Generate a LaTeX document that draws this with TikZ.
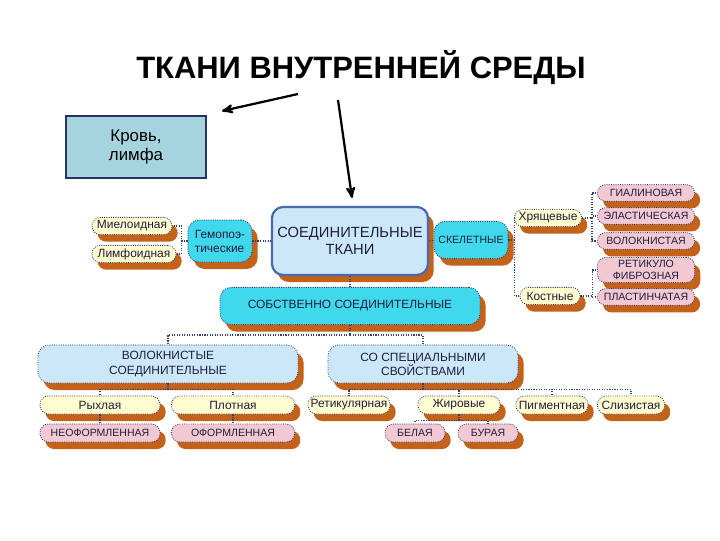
\documentclass[tikz,border=0pt]{standalone}
\usepackage{fontspec}
\setmainfont{Liberation Sans}
\usepackage{xcolor}
\usepackage{tikz}
\definecolor{ShadowOrange}{RGB}{196,98,26}
\definecolor{BoxBorder}{RGB}{40,50,100}
\definecolor{MainBorder}{RGB}{74,104,176}
\definecolor{PaleBlue}{RGB}{204,232,248}
\definecolor{CyanFill}{RGB}{64,216,236}
\definecolor{PaleYellow}{RGB}{255,252,208}
\definecolor{PalePink}{RGB}{242,200,210}
\definecolor{TextNavy}{RGB}{30,30,60}
\definecolor{LinkNavy}{RGB}{50,65,115}
\definecolor{BloodBlue}{RGB}{166,212,222}
\usetikzlibrary{arrows,shadows}

\tikzset{
  card/.style={draw=BoxBorder, densely dotted, line width=0.6pt, rounded corners=6pt, align=center,
    inner sep=1pt, text=TextNavy,
    drop shadow={shadow xshift=4pt, shadow yshift=-5pt, fill=ShadowOrange, opacity=1}},
  mainbox/.style={card, fill=PaleBlue, draw=MainBorder, solid, line width=1.6pt,
    rounded corners=8pt, font=\fontsize{10.5}{12.5}\selectfont},
  groupbox/.style={card, fill=PaleBlue, rounded corners=8pt, font=\fontsize{8.5}{10}\selectfont},
  cyanbox/.style={card, fill=CyanFill, rounded corners=8pt, font=\fontsize{8.5}{10}\selectfont},
  kindpill/.style={card, fill=PaleYellow, font=\fontsize{8.5}{9.5}\selectfont},
  subpill/.style={card, fill=PalePink, font=\fontsize{7.5}{8.5}\selectfont},
  link/.style={color=LinkNavy, densely dotted, line width=0.8pt},
  bigarrow/.style={->, line width=1.6pt},
}

\begin{document}
\begin{tikzpicture}[x=0.025cm, y=-0.025cm, >=stealth']
        \useasboundingbox[fill=white] (0,0) rectangle (720,540);

        % title and the blood box
        \node[font=\bfseries\fontsize{22}{26}\selectfont] (title) at (361,68) {ТКАНИ ВНУТРЕННЕЙ СРЕДЫ};
        \node[draw=BoxBorder, line width=0.8pt, fill=BloodBlue, minimum width=3.5cm, minimum height=1.55cm,
              align=center, font=\fontsize{12}{14}\selectfont] (krov) at (136,147) {Кровь,\\лимфа};

        % arrows from the title
        \coordinate (leftstart) at (298,94);
        \coordinate (krovtip) at (222,111);
        \coordinate (rightstart) at (338,100);
        \coordinate (soedtip) at (352,198);
        \draw[bigarrow] (leftstart) -- (krovtip);
        \draw[bigarrow] (rightstart) -- (soedtip);

        % upper row
        \node[mainbox, minimum width=3.9cm, minimum height=1.7cm] (soed) at (350,241) {СОЕДИНИТЕЛЬНЫЕ\\ТКАНИ};
        \node[cyanbox, align=left, minimum width=1.6cm, minimum height=1.05cm] (gemo) at (220,241) {Гемопоэ-\\тические};
        \node[kindpill, minimum width=2.0cm, minimum height=0.43cm] (miel) at (132,226) {Миелоидная};
        \node[kindpill, minimum width=2.1cm, minimum height=0.43cm] (limf) at (134,254) {Лимфоидная};
        \node[cyanbox, minimum width=1.85cm, minimum height=0.93cm, font=\fontsize{7.5}{8.5}\selectfont] (skel) at (471,240) {СКЕЛЕТНЫЕ};
        \node[kindpill, minimum width=1.68cm, minimum height=0.43cm] (hryasch) at (548,218) {Хрящевые};
        \node[kindpill, minimum width=1.5cm, minimum height=0.43cm] (kost) at (550,296) {Костные};

        % right column
        \node[subpill, minimum width=2.43cm, minimum height=0.42cm] (gial) at (646,193) {ГИАЛИНОВАЯ};
        \node[subpill, minimum width=2.43cm, minimum height=0.42cm] (elast) at (646,216) {ЭЛАСТИЧЕСКАЯ};
        \node[subpill, minimum width=2.43cm, minimum height=0.42cm] (volok) at (646,241) {ВОЛОКНИСТАЯ};
        \node[subpill, minimum width=2.43cm, minimum height=0.63cm] (retfib) at (646,270) {РЕТИКУЛО\\ФИБРОЗНАЯ};
        \node[subpill, minimum width=2.43cm, minimum height=0.42cm] (plast) at (646,297) {ПЛАСТИНЧАТАЯ};

        % middle rows
        \node[cyanbox, minimum width=6.5cm, minimum height=0.93cm] (sobstv) at (350,306) {СОБСТВЕННО СОЕДИНИТЕЛЬНЫЕ};
        \node[groupbox, minimum width=6.5cm, minimum height=0.95cm] (voloknistye) at (168,364) {ВОЛОКНИСТЫЕ\\СОЕДИНИТЕЛЬНЫЕ};
        \node[groupbox, minimum width=4.75cm, minimum height=0.95cm] (spec) at (423,364) {СО СПЕЦИАЛЬНЫМИ\\СВОЙСТВАМИ};

        % lower rows
        \node[kindpill, minimum width=3.0cm, minimum height=0.45cm] (ryh) at (100,405) {Рыхлая};
        \node[kindpill, minimum width=3.08cm, minimum height=0.45cm] (plot) at (233,405) {Плотная};
        \node[kindpill, minimum width=2.05cm, minimum height=0.45cm] (retik) at (349,405) {Ретикулярная};
        \node[kindpill, minimum width=2.05cm, minimum height=0.45cm] (zhir) at (459,405) {Жировые};
        \node[kindpill, minimum width=1.8cm, minimum height=0.45cm] (pigm) at (552,405) {Пигментная};
        \node[kindpill, minimum width=1.68cm, minimum height=0.45cm] (sliz) at (631,405) {Слизистая};
        \node[subpill, minimum width=3.0cm, minimum height=0.45cm] (neof) at (100,433) {НЕОФОРМЛЕННАЯ};
        \node[subpill, minimum width=3.08cm, minimum height=0.45cm] (oform) at (233,433) {ОФОРМЛЕННАЯ};
        \node[subpill, minimum width=1.5cm, minimum height=0.45cm] (bel) at (415,433) {БЕЛАЯ};
        \node[subpill, minimum width=1.5cm, minimum height=0.45cm] (bur) at (488,433) {БУРАЯ};

        % connectors, over the shadows
        \begin{scope}[link]
            \foreach \n in {miel, limf}
                \draw (gemo.west) -- ++(-6,0) |- (\n.east);
            \draw (gemo.east) -- (soed.west);
            \draw (soed.east) -- (skel.west);
            \foreach \n in {hryasch, kost}
                \draw (skel.east) -- ++(6,0) |- (\n.west);
            \foreach \n in {gial, elast, volok}
                \draw (hryasch.east) -- ++(10,0) |- (\n.west);
            \foreach \n in {retfib, plast}
                \draw (kost.east) -- ++(12,0) |- (\n.west);
            \draw (soed.south) -- (sobstv.north);
            \foreach \n in {voloknistye, spec}
                \draw (sobstv.south) -- ++(0,10) -| (\n.north);
            \foreach \n in {ryh, plot}
                \draw (voloknistye.south) -- ++(0,6) -| (\n.north);
            \foreach \n in {retik, zhir, pigm, sliz}
                \draw (spec.south) -- ++(0,6) -| (\n.north);
            \foreach \n in {bel, bur}
                \draw (zhir.south) -- ++(0,6) -| (\n.north);
            \draw (ryh.south) -- (neof.north);
            \draw (plot.south) -- (oform.north);
        \end{scope}
    \end{tikzpicture}
\end{document}
